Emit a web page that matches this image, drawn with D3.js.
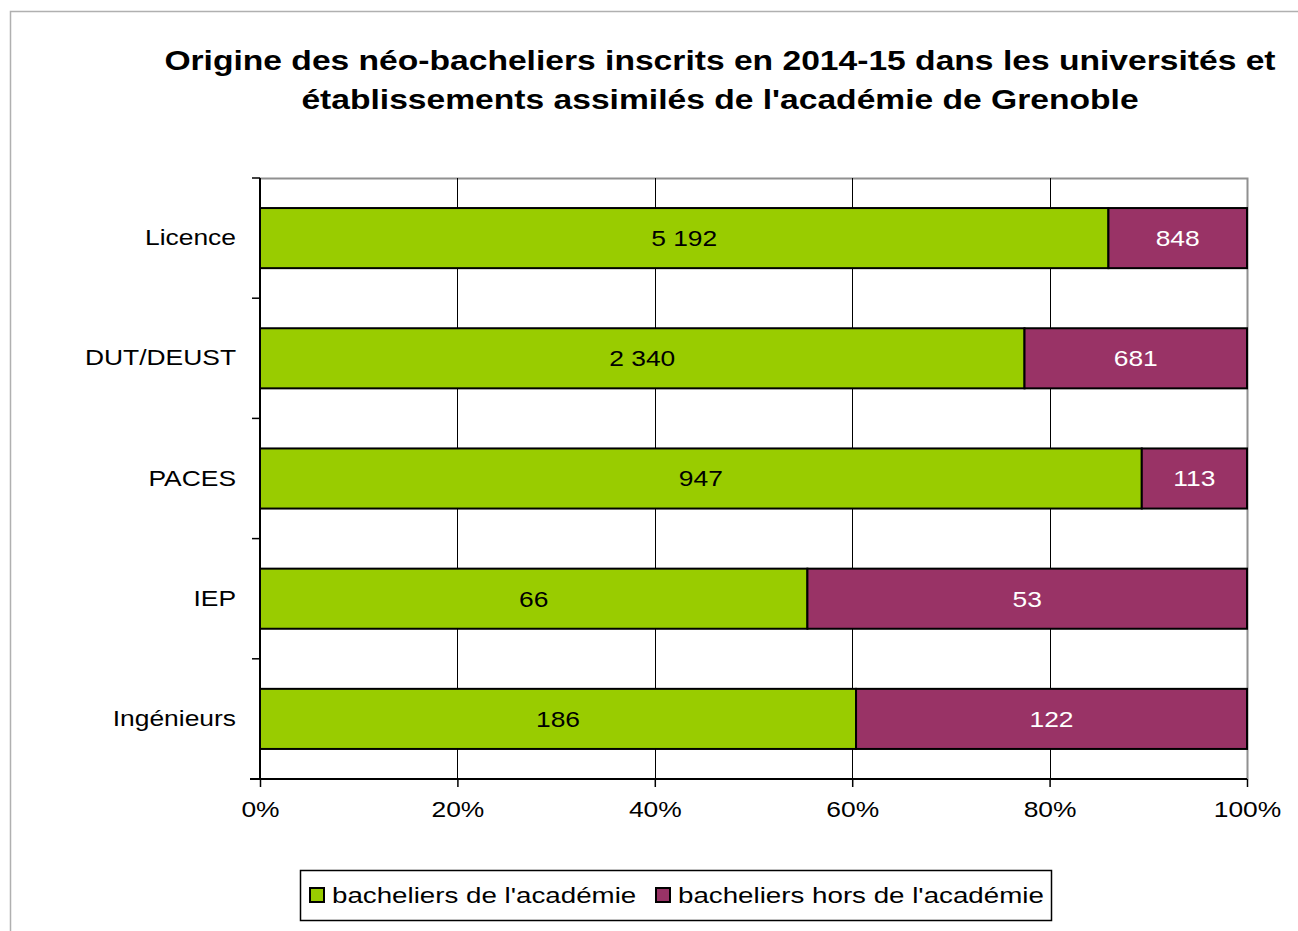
<!DOCTYPE html>
<html>
<head>
<meta charset="utf-8">
<script src="https://cdn.jsdelivr.net/npm/d3@7"></script>
<style>
  body { margin: 0; background: #fff; }
  svg { font-family: "Liberation Sans", Arial, sans-serif; display: block; }
</style>
</head>
<body>
<svg></svg>
<script>
// data

const categories = ["Licence", "DUT/DEUST", "PACES", "IEP", "Ingénieurs"];
const inAcademy = [5192, 2340, 947, 66, 186];
const outAcademy = [848, 681, 113, 53, 122];
const seriesNames = ["bacheliers de l'académie", "bacheliers hors de l'académie"];
const xTicks = [0, 0.2, 0.4, 0.6, 0.8, 1];
const titleLines = [
  "Origine des néo-bacheliers inscrits en 2014-15 dans les universités et",
  "établissements assimilés de l'académie de Grenoble"
];

const colors = ["#99cc00", "#993366"];
const fmt = v => d3.format(",")(v).replace(/,/g, " ");

// dimensions

const W = 1298, H = 931;
const plot = { left: 260, right: 1247, top: 178, bottom: 779 };

const svg = d3.select("svg").attr("width", W).attr("height", H);

// outer frame
svg.append("rect")
   .attr("x", 10.5).attr("y", 11.5)
   .attr("width", W).attr("height", H)
   .attr("fill", "none").attr("stroke", "#b0b0b0").attr("stroke-width", 1.5);

// title
svg.append("g").selectAll("text")
   .data(titleLines)
   .join("text")
   .attr("x", 720)
   .attr("y", (d, i) => 70 + i * 39)
   .attr("text-anchor", "middle")
   .attr("font-size", 28)
   .attr("font-weight", "bold")
   .attr("fill", "#000")
   .text(d => d);

// scales

const x = d3.scaleLinear().domain([0, 1]).range([plot.left, plot.right]);
const y = d3.scaleBand().domain(categories).range([plot.top, plot.bottom]).paddingInner(0.5).paddingOuter(0.25);
const yEdge = d3.scaleLinear().domain([0, categories.length]).range([plot.top, plot.bottom]);

// plot frame (top and right edges gray)
svg.append("path")
   .attr("d", `M${plot.left},${plot.top + 0.5}H${plot.right + 0.5}V${plot.bottom}`)
   .attr("fill", "none").attr("stroke", "#909090").attr("stroke-width", 2);

// vertical gridlines
svg.append("g").selectAll("line")
   .data(xTicks.slice(1, -1))
   .join("line")
   .attr("x1", d => Math.round(x(d)) + 0.5).attr("x2", d => Math.round(x(d)) + 0.5)
   .attr("y1", plot.top).attr("y2", plot.bottom)
   .attr("stroke", "#000").attr("stroke-width", 1);

// x axis
const xAxis = svg.append("g")
   .attr("transform", `translate(0,${plot.bottom})`)
   .call(d3.axisBottom(x).tickValues(xTicks).tickFormat(d3.format(".0%")).tickSizeInner(8).tickSizeOuter(0).tickPadding(10));
xAxis.select(".domain").attr("d", `M${plot.left - 10},0H${plot.right}`).attr("stroke", "#000").attr("stroke-width", 2);
xAxis.selectAll(".tick line").attr("stroke", "#000").attr("stroke-width", 1.5);
xAxis.selectAll(".tick text").attr("font-size", 22).attr("fill", "#000").attr("dy", "0.9em");

// y axis
const yAxis = svg.append("g")
   .attr("transform", `translate(${plot.left},0)`)
   .call(d3.axisLeft(y).tickSize(0).tickPadding(24));
yAxis.select(".domain").attr("d", `M0,${plot.top}V${plot.bottom}`).attr("stroke", "#000").attr("stroke-width", 2);
yAxis.selectAll(".tick text").attr("font-size", 22).attr("fill", "#000");
yAxis.append("g").selectAll("line")
   .data(d3.range(categories.length + 1))
   .join("line")
   .attr("x1", -8).attr("x2", 0)
   .attr("y1", d => yEdge(d)).attr("y2", d => yEdge(d))
   .attr("stroke", "#000").attr("stroke-width", 1.5);

// bars

const rows = categories.map((c, i) => {
  const total = inAcademy[i] + outAcademy[i];
  return [
    { cat: c, s: 0, v: inAcademy[i], x0: 0, x1: inAcademy[i] / total },
    { cat: c, s: 1, v: outAcademy[i], x0: inAcademy[i] / total, x1: 1 }
  ];
}).flat();

svg.append("g").selectAll("rect")
   .data(rows)
   .join("rect")
   .attr("x", d => x(d.x0))
   .attr("y", d => y(d.cat))
   .attr("width", d => x(d.x1) - x(d.x0))
   .attr("height", y.bandwidth())
   .attr("fill", d => colors[d.s])
   .attr("stroke", "#000")
   .attr("stroke-width", 2);

svg.append("g").selectAll("text")
   .data(rows)
   .join("text")
   .attr("x", d => (x(d.x0) + x(d.x1)) / 2)
   .attr("y", d => y(d.cat) + y.bandwidth() / 2)
   .attr("dy", "0.36em")
   .attr("text-anchor", "middle")
   .attr("font-size", 22)
   .attr("fill", d => d.s === 0 ? "#000" : "#fff")
   .text(d => fmt(d.v));

// legend

const legend = svg.append("g");
legend.append("rect")
   .attr("x", 300.5).attr("y", 870.5).attr("width", 751).attr("height", 50)
   .attr("fill", "#fff").attr("stroke", "#000").attr("stroke-width", 1.5);

const legendX = [310, 656];
seriesNames.forEach((name, i) => {
  legend.append("rect")
     .attr("x", legendX[i]).attr("y", 888)
     .attr("width", 14).attr("height", 14)
     .attr("fill", colors[i]).attr("stroke", "#000").attr("stroke-width", 2);
  legend.append("text")
     .attr("class", "leg")
     .attr("x", legendX[i] + 22).attr("y", 895)
     .attr("dy", "0.36em")
     .attr("font-size", 22)
     .attr("fill", "#000")
     .text(name);
});

// the reference text is drawn wider than Liberation Sans: stretch it
svg.selectAll("text").each(function() {
  const sx = this.classList.contains("leg") ? 1.26 : 1.2;
  const len = this.getComputedTextLength();
  this.setAttribute("textLength", len * sx);
  this.setAttribute("lengthAdjust", "spacingAndGlyphs");
});
</script>
</body>
</html>
